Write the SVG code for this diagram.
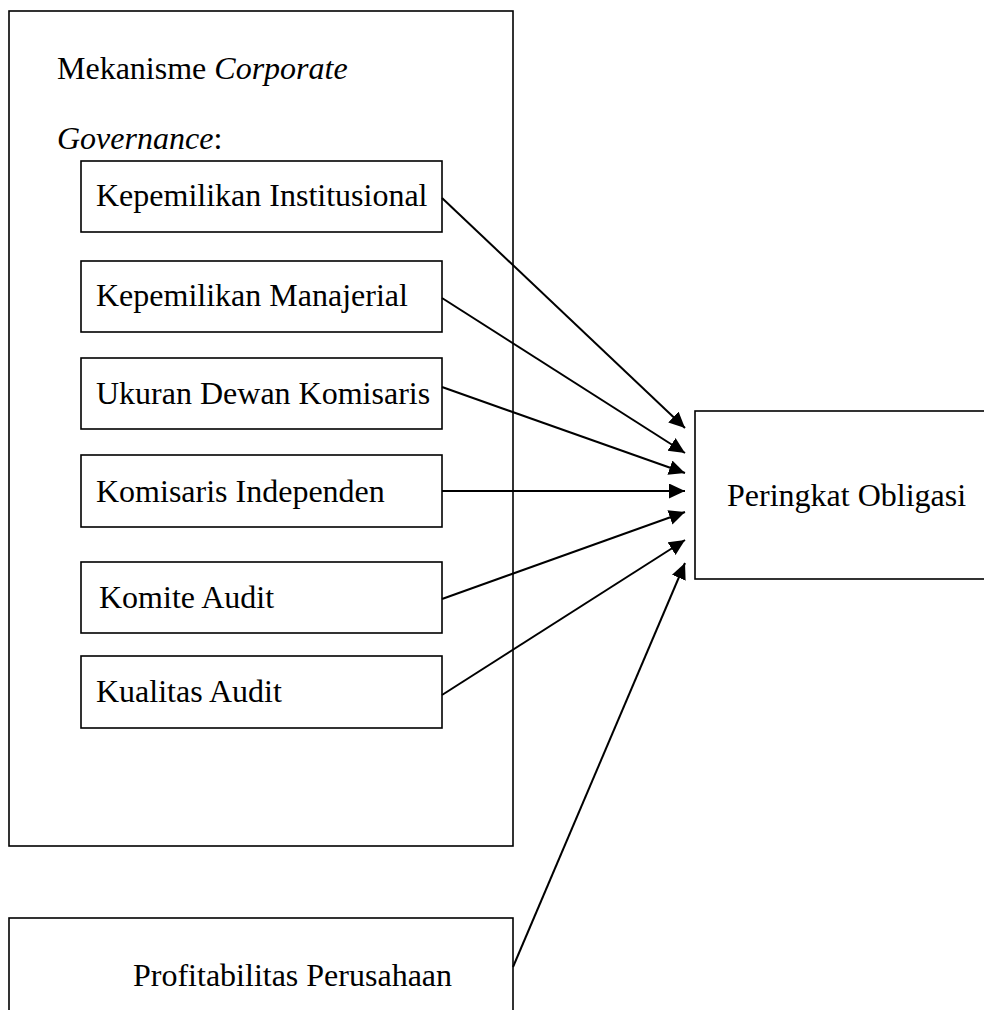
<svg xmlns="http://www.w3.org/2000/svg" width="984" height="1010" viewBox="0 0 984 1010">
<style>
.box{fill:none;stroke:#000;stroke-width:1.6}
.t{font-family:"Liberation Serif","Times New Roman",serif;font-size:32px;fill:#000}
.i{font-style:italic}
.c{stroke:#000;stroke-width:2;fill:none;marker-end:url(#ah)}
</style>
<defs>
<marker id="ah" markerUnits="userSpaceOnUse" markerWidth="17" markerHeight="16" refX="16" refY="7.5" orient="auto">
<path d="M0,0 L16,7.5 L0,15 z" fill="#000"/>
</marker>
</defs>
<rect width="984" height="1010" fill="#fff"/>
<g id="mekanisme">
<rect class="box" x="9" y="11" width="504" height="835"/>
<text class="t" x="57" y="79">Mekanisme <tspan class="i">Corporate</tspan></text>
<text class="t" x="57" y="149"><tspan class="i">Governance</tspan>:</text>
</g>
<g id="n1"><rect class="box" x="81" y="161" width="361" height="71"/><text class="t" x="96" y="206">Kepemilikan Institusional</text></g>
<g id="n2"><rect class="box" x="81" y="261" width="361" height="71"/><text class="t" x="96" y="306">Kepemilikan Manajerial</text></g>
<g id="n3"><rect class="box" x="81" y="358" width="361" height="71"/><text class="t" x="96" y="404">Ukuran Dewan Komisaris</text></g>
<g id="n4"><rect class="box" x="81" y="455" width="361" height="72"/><text class="t" x="96" y="502">Komisaris Independen</text></g>
<g id="n5"><rect class="box" x="81" y="562" width="361" height="71"/><text class="t" x="99" y="608">Komite Audit</text></g>
<g id="n6"><rect class="box" x="81" y="656" width="361" height="72"/><text class="t" x="96" y="702">Kualitas Audit</text></g>
<g id="peringkat"><rect class="box" x="695" y="411" width="310" height="168"/><text class="t" x="727" y="506">Peringkat Obligasi</text></g>
<g id="profitabilitas"><rect class="box" x="9" y="918" width="504" height="110"/><text class="t" x="133" y="986">Profitabilitas Perusahaan</text></g>
<g id="connectors">
<line class="c" x1="442" y1="198" x2="685" y2="428"/>
<line class="c" x1="442" y1="298" x2="685" y2="453"/>
<line class="c" x1="442" y1="387" x2="685" y2="473"/>
<line class="c" x1="442" y1="491" x2="685" y2="491"/>
<line class="c" x1="442" y1="599" x2="685" y2="512"/>
<line class="c" x1="442" y1="695" x2="685" y2="540"/>
<line class="c" x1="513" y1="967" x2="685" y2="563"/>
</g>
</svg>
